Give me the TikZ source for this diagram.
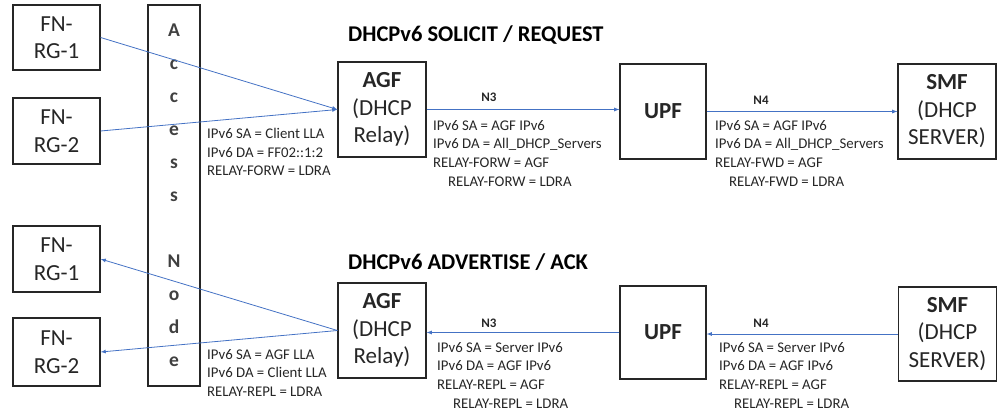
\documentclass[tikz,border=0pt]{standalone}
\usepackage{fontspec}
\setmainfont{Carlito}
\usetikzlibrary{arrows,positioning}

\definecolor{linkblue}{HTML}{4472C4}
\definecolor{inkgray}{HTML}{262626}

\begin{document}
\begin{tikzpicture}[x=1pt,y=-1pt,>=latex,
                    box node/.style={rectangle,draw=inkgray,line width=1.2pt,inner sep=0pt,
                      align=center,text=inkgray,font=\fontsize{23}{27.5}\selectfont},
                    flow/.style={->,draw=linkblue,line width=0.8pt},
                    info/.style={anchor=north west,inner sep=0pt,align=left,text=inkgray,
                      font=\fontsize{14.8}{18.7}\selectfont},
                    iface/.style={inner sep=0pt,text=inkgray,font=\fontsize{13}{15}\selectfont\bfseries},
                    title/.style={anchor=west,inner sep=0pt,text=black,font=\fontsize{22.5}{26}\selectfont\bfseries}]
  \useasboundingbox (0,0) rectangle (1000,418);

  % solicit / request
  \node[box node,minimum width=87pt,minimum height=65pt] (rg1) at (56.5,37.5) {FN-\\RG-1};
  \node[box node,minimum width=87pt,minimum height=66pt] (rg2) at (56.5,131) {FN-\\RG-2};
  \node[box node,minimum width=88pt,minimum height=95pt] (agf1) at (382,109.5) {\textbf{AGF}\\(DHCP\\Relay)};
  \node[box node,minimum width=86pt,minimum height=95pt] (upf1) at (663,111.5) {\textbf{UPF}};
  \node[box node,minimum width=98pt,minimum height=95pt] (smf1) at (947,111.5) {\textbf{SMF}\\(DHCP\\SERVER)};

  % advertise / ack
  \node[box node,minimum width=87pt,minimum height=66pt] (rg3) at (56.5,259) {FN-\\RG-1};
  \node[box node,minimum width=87pt,minimum height=68pt] (rg4) at (56.5,352) {FN-\\RG-2};
  \node[box node,minimum width=88pt,minimum height=95pt] (agf2) at (382,330.5) {\textbf{AGF}\\(DHCP\\Relay)};
  \node[box node,minimum width=86pt,minimum height=93pt] (upf2) at (663,332.5) {\textbf{UPF}};
  \node[box node,minimum width=98pt,minimum height=94pt] (smf2) at (947.5,334) {\textbf{SMF}\\(DHCP\\SERVER)};

  \node[box node,minimum width=52pt,minimum height=381pt,text=black!75,
        font=\fontsize{19.5}{33}\selectfont\bfseries]
    (an) at (174,195.5) {A\\c\\c\\e\\s\\s\\[33pt]N\\o\\d\\e};

  \node[title] (t1) at (348,35) {DHCPv6 SOLICIT / REQUEST};
  \node[title] (t2) at (348,262) {DHCPv6 ADVERTISE / ACK};

  \draw[flow] (rg1.east) -- (agf1.west);
  \draw[flow] (rg2.east) -- (agf1.west);
  \draw[flow] (agf1.east) -- (agf1.east -| upf1.west);
  \draw[flow] (upf1.east) -- (upf1.east -| smf1.west);

  \draw[flow] (agf2.west) -- (rg3.east);
  \draw[flow] (agf2.west) -- (rg4.east);
  \draw[flow] (upf2.west) -- (upf2.west -| agf2.east);
  \draw[flow] (smf2.west) -- (smf2.west -| upf2.east);

  \node[iface] (n3a) at (489,97) {N3};
  \node[iface] (n4a) at (761,100) {N4};
  \node[iface] (n3b) at (489,323) {N3};
  \node[iface] (n4b) at (761,323) {N4};

  \node[info] (i1) at (207,128) {IPv6 SA = Client LLA\\IPv6 DA = FF02::1:2\\RELAY-FORW = LDRA};
  \node[info] (i2) at (433,120) {IPv6 SA = AGF IPv6\\IPv6 DA = All\_DHCP\_Servers\\RELAY-FORW = AGF\\\hspace{15pt}RELAY-FORW = LDRA};
  \node[info] (i3) at (715,120) {IPv6 SA = AGF IPv6\\IPv6 DA = All\_DHCP\_Servers\\RELAY-FWD = AGF\\\hspace{14pt}RELAY-FWD = LDRA};

  \node[info] (i4) at (207,349) {IPv6 SA = AGF LLA\\IPv6 DA = Client\ LLA\\RELAY-REPL = LDRA};
  \node[info] (i5) at (437,342) {IPv6 SA = Server IPv6\\IPv6 DA = AGF IPv6\\RELAY-REPL = AGF\\\hspace{16pt}RELAY-REPL = LDRA};
  \node[info] (i6) at (719,342) {IPv6 SA = Server IPv6\\IPv6 DA = AGF IPv6\\RELAY-REPL = AGF\\\hspace{15pt}RELAY-REPL = LDRA};
\end{tikzpicture}
\end{document}
